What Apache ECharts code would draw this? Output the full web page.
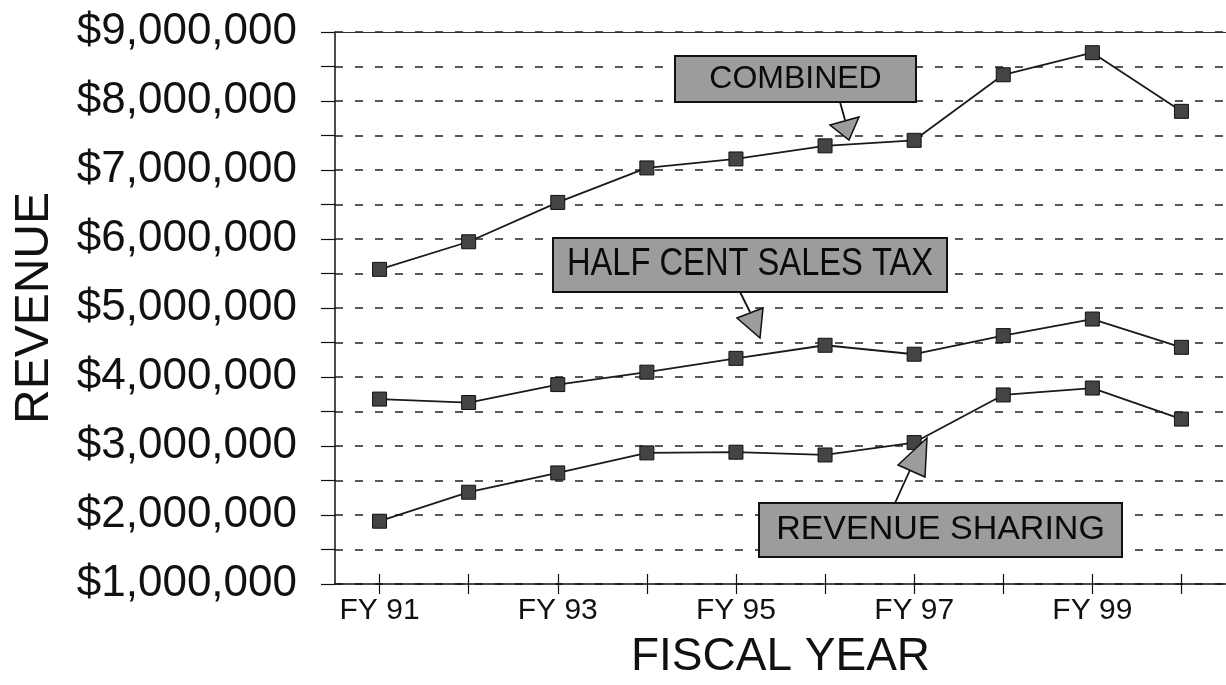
<!DOCTYPE html>
<html>
<head>
<meta charset="utf-8">
<script src="https://cdn.jsdelivr.net/npm/echarts@6/dist/echarts.min.js"></script>
<style>
  html, body { margin: 0; padding: 0; background: #fff; }
  #chart { width: 1226px; height: 685px; }
</style>
</head>
<body>
<div id="chart"></div>
<script>
const categories = ['FY 91', 'FY 92', 'FY 93', 'FY 94', 'FY 95', 'FY 96', 'FY 97', 'FY 98', 'FY 99', 'FY 00'];
const combined = [5560000, 5960000, 6530000, 7030000, 7160000, 7350000, 7430000, 8380000, 8700000, 7850000];
const halfCentSalesTax = [3680000, 3630000, 3890000, 4070000, 4270000, 4460000, 4330000, 4600000, 4840000, 4430000];
const revenueSharing = [1910000, 2330000, 2610000, 2900000, 2910000, 2870000, 3050000, 3740000, 3840000, 3390000];
const yMin = 1000000, yMax = 9000000, yStep = 500000;
const annotationLabels = ['COMBINED', 'HALF CENT SALES TAX', 'REVENUE SHARING'];

const FONT = '"Liberation Sans", Arial, sans-serif';
const chart = echarts.init(document.getElementById('chart'));

function lineSeries(name, data) {
  return {
    name: name, type: 'line', data: data, xAxisIndex: 0,
    symbol: 'rect', symbolSize: 14,
    lineStyle: { color: '#1a1a1a', width: 1.8 },
    itemStyle: { color: '#444', borderColor: '#111', borderWidth: 1 },
    emphasis: { disabled: true }, animation: false, z: 3
  };
}

function box(x, y, w, h, text, fs, sx) {
  return [
    { type: 'rect', shape: { x: x, y: y, width: w, height: h },
      style: { fill: '#9c9c9c', stroke: '#111', lineWidth: 2 }, z: 10 },
    { type: 'text', x: x + w / 2, y: y + h / 2, scaleX: sx || 1,
      style: { text: text, font: fs + 'px ' + FONT, fill: '#0a0a0a', align: 'center', verticalAlign: 'middle' }, z: 11 }
  ];
}
function arrow(x1, y1, x2, y2, tri) {
  return [
    { type: 'line', shape: { x1: x1, y1: y1, x2: x2, y2: y2 }, style: { stroke: '#111', lineWidth: 1.8 }, z: 10 },
    { type: 'polygon', shape: { points: tri }, style: { fill: '#9c9c9c', stroke: '#111', lineWidth: 1.5 }, z: 10 }
  ];
}

const option = {
  backgroundColor: '#fff',
  animation: false,
  grid: { left: 335, right: -7, top: 32, bottom: 100, containLabel: false },
  xAxis: [
    {
      type: 'category', data: categories, position: 'bottom', boundaryGap: true,
      axisLine: { show: true, lineStyle: { color: '#111', width: 1.5 } },
      axisTick: { show: true, alignWithLabel: true, interval: 0, length: 10, lineStyle: { color: '#111', width: 1.2 } },
      axisLabel: { interval: 1, fontSize: 30, color: '#111', fontFamily: FONT, margin: 12 },
      splitLine: { show: false },
      name: 'FISCAL YEAR', nameLocation: 'middle', nameGap: 50,
      nameTextStyle: { fontSize: 46, color: '#111', fontFamily: FONT }
    },
    {
      type: 'category', data: categories, position: 'bottom', boundaryGap: true,
      axisLine: { show: false },
      axisTick: { show: true, inside: true, alignWithLabel: true, interval: 0, length: 10, lineStyle: { color: '#111', width: 1.2 } },
      axisLabel: { show: false }, splitLine: { show: false }
    },
    {
      type: 'category', data: categories, position: 'top', boundaryGap: true,
      axisLine: { show: true, lineStyle: { color: '#333', width: 1.2 } },
      axisTick: { show: false }, axisLabel: { show: false }, splitLine: { show: false }
    }
  ],
  yAxis: {
    type: 'value', min: yMin, max: yMax, interval: yStep,
    axisLine: { show: true, lineStyle: { color: '#111', width: 1.5 } },
    axisTick: { show: true, length: 14, lineStyle: { color: '#111', width: 1.2 } },
    axisLabel: {
      fontSize: 44, color: '#111', fontFamily: FONT, margin: 38,
      formatter: function (v) { return v % 1000000 === 0 ? '$' + v.toLocaleString('en-US') : ''; }
    },
    splitLine: { show: true, lineStyle: { color: '#222', width: 1.5, type: [8, 12] } },
    name: 'REVENUE', nameLocation: 'middle', nameGap: 276, nameRotate: 90,
    nameTextStyle: { fontSize: 48, color: '#111', fontFamily: FONT }
  },
  series: [
    lineSeries('Combined', combined),
    lineSeries('Half Cent Sales Tax', halfCentSalesTax),
    lineSeries('Revenue Sharing', revenueSharing)
  ],
  graphic: [].concat(
    arrow(840, 102, 845, 120, [[830, 125], [859, 117], [849, 140]]),
    box(675, 56, 241, 46, annotationLabels[0], 32),
    arrow(740, 292, 750, 312, [[737, 318], [763, 308], [760, 338]]),
    box(553, 238, 394, 54, annotationLabels[1], 38, 0.86),
    arrow(895, 503, 910, 470, [[898, 465], [927, 438], [925, 477]]),
    box(759, 503, 363, 54, annotationLabels[2], 34)
  )
};
chart.setOption(option);
</script>
</body>
</html>
